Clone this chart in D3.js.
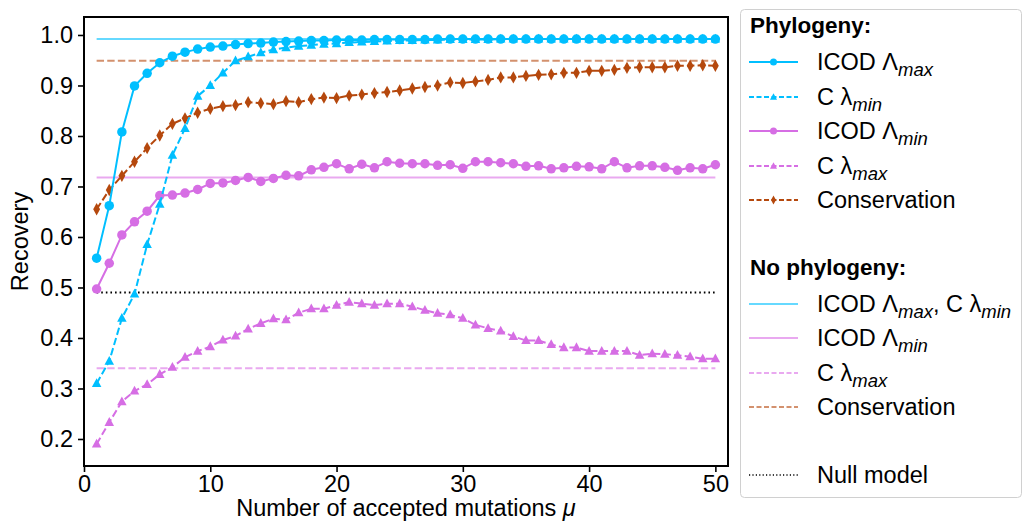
<!DOCTYPE html>
<html><head><meta charset="utf-8">
<script src="https://cdn.jsdelivr.net/npm/d3@7"></script>
<style>
html,body{margin:0;padding:0;background:#fff;}
svg{display:block;font-family:"Liberation Sans",Arial,sans-serif;}
</style></head>
<body><svg id="chart" width="1024" height="523"></svg>
<script>
// ---------- data ----------
const mu = [1,2,3,4,5,6,7,8,9,10,11,12,13,14,15,16,17,18,19,20,21,22,23,24,25,26,27,28,29,30,31,32,33,34,35,36,37,38,39,40,41,42,43,44,45,46,47,48,49,50];
const icodMaxPhylo = [0.558,0.662,0.808,0.899,0.924,0.945,0.958,0.966,0.972,0.976,0.978,0.981,0.983,0.984,0.986,0.987,0.988,0.989,0.989,0.990,0.990,0.990,0.991,0.991,0.991,0.991,0.991,0.992,0.992,0.992,0.992,0.992,0.992,0.992,0.992,0.992,0.992,0.992,0.992,0.992,0.992,0.992,0.992,0.992,0.992,0.992,0.992,0.992,0.992,0.992];
const cMinPhylo = [0.310,0.354,0.439,0.487,0.585,0.665,0.762,0.815,0.879,0.900,0.925,0.949,0.957,0.965,0.971,0.975,0.978,0.980,0.982,0.983,0.985,0.986,0.987,0.988,0.989,0.989,0.990,0.990,0.991,0.991,0.991,0.991,0.992,0.992,0.992,0.992,0.992,0.992,0.992,0.992,0.992,0.992,0.992,0.992,0.992,0.992,0.992,0.992,0.992,0.992];
const icodMinPhylo = [0.497,0.548,0.604,0.630,0.651,0.682,0.683,0.687,0.694,0.706,0.707,0.712,0.718,0.710,0.716,0.722,0.721,0.733,0.738,0.745,0.735,0.744,0.737,0.749,0.746,0.745,0.745,0.742,0.743,0.736,0.749,0.749,0.747,0.745,0.740,0.741,0.735,0.737,0.740,0.739,0.735,0.749,0.737,0.741,0.741,0.738,0.732,0.737,0.735,0.743];
const cMaxPhylo = [0.190,0.233,0.274,0.295,0.308,0.328,0.342,0.362,0.374,0.383,0.396,0.404,0.418,0.429,0.438,0.436,0.450,0.458,0.458,0.465,0.471,0.468,0.465,0.468,0.468,0.462,0.455,0.449,0.446,0.439,0.426,0.419,0.414,0.403,0.395,0.395,0.387,0.381,0.381,0.374,0.374,0.374,0.374,0.366,0.369,0.368,0.366,0.363,0.359,0.359];
const consPhylo = [0.655,0.693,0.721,0.749,0.776,0.801,0.824,0.835,0.846,0.854,0.859,0.861,0.867,0.865,0.863,0.869,0.867,0.873,0.876,0.875,0.880,0.882,0.885,0.887,0.890,0.894,0.897,0.900,0.906,0.905,0.908,0.911,0.916,0.916,0.919,0.921,0.922,0.925,0.925,0.929,0.929,0.931,0.935,0.936,0.936,0.936,0.939,0.939,0.940,0.939];
// no-phylogeny constant levels
const noPhyloIcodMaxCMin = 0.992;
const noPhyloIcodMin = 0.718;
const noPhyloCMax = 0.340;
const noPhyloCons = 0.949;
const nullModel = 0.490;
const xTicks = [0,10,20,30,40,50];
const yTicks = [0.2,0.3,0.4,0.5,0.6,0.7,0.8,0.9,1.0];

// ---------- style ----------
const BLUE = "#00bfff", PINK = "#d66ee4", BROWN = "#b5480d";
const BLUE_L = "#66d9ff", PINK_L = "#e9a9f0", BROWN_L = "#d3916e";
const FS = 23.5;

const svg = d3.select("#chart");
const L = 84, R = 728, T = 17, B = 466;
const x = d3.scaleLinear().domain([0, 51]).range([L, R]);
const y = d3.scaleLinear().domain([0.1465, 1.0356]).range([B, T]);

// reference (no phylogeny) lines
const hlines = [
  {v: noPhyloIcodMaxCMin, c: BLUE_L, dash: null, w: 2},
  {v: noPhyloCons, c: BROWN_L, dash: "7.4,3.2", w: 2},
  {v: noPhyloIcodMin, c: PINK_L, dash: null, w: 2},
  {v: noPhyloCMax, c: PINK_L, dash: "7.4,3.2", w: 2},
  {v: nullModel, c: "#000", dash: "1.6,3", w: 2}
];
hlines.forEach(h => {
  svg.append("line")
    .attr("x1", x(mu[0])).attr("x2", x(mu[mu.length-1]))
    .attr("y1", y(h.v)).attr("y2", y(h.v))
    .attr("stroke", h.c).attr("stroke-width", h.w)
    .attr("stroke-dasharray", h.dash);
});

// symbols
function markerPath(type, s) {
  if (type === "circle") return d3.symbol(d3.symbolCircle, s*s*Math.PI/4)();
  if (type === "tri") {
    const r = s/2;
    return `M0,${-r*1.1}L${r},${r*0.75}L${-r},${r*0.75}Z`;
  }
  if (type === "diamond") {
    const w = s*0.36, h = s*0.65;
    return `M0,${-h}L${w},0L0,${h}L${-w},0Z`;
  }
}

const series = [
  {vals: consPhylo, c: BROWN, dash: "7.4,3.2", m: "diamond"},
  {vals: cMaxPhylo, c: PINK, dash: "7.4,3.2", m: "tri"},
  {vals: icodMinPhylo, c: PINK, dash: null, m: "circle"},
  {vals: cMinPhylo, c: BLUE, dash: "7.4,3.2", m: "tri"},
  {vals: icodMaxPhylo, c: BLUE, dash: null, m: "circle"}
];
const line = d3.line().x((d,i) => x(mu[i])).y(d => y(d));
series.forEach(s => {
  svg.append("path").datum(s.vals).attr("d", line)
    .attr("fill", "none").attr("stroke", s.c).attr("stroke-width", 2)
    .attr("stroke-dasharray", s.dash);
  svg.append("g").selectAll("path").data(s.vals).join("path")
    .attr("d", markerPath(s.m, 9.5))
    .attr("transform", (d,i) => `translate(${x(mu[i])},${y(d)})`)
    .attr("fill", s.c);
});

// axes
const xAxis = d3.axisBottom(x).tickValues(xTicks).tickSize(6).tickPadding(3).tickFormat(d3.format("d"));
const yAxis = d3.axisLeft(y).tickValues(yTicks).tickSize(6).tickPadding(5).tickFormat(d3.format(".1f"));
const gx = svg.append("g").attr("transform", `translate(0,${B})`).call(xAxis);
const gy = svg.append("g").attr("transform", `translate(${L},0)`).call(yAxis);
[gx, gy].forEach(g => {
  g.select(".domain").remove();
  g.selectAll(".tick line").attr("stroke", "#000").attr("stroke-width", 1.6);
  g.selectAll(".tick text").attr("fill", "#000").attr("font-size", FS)
    .attr("font-family", "'Liberation Sans',Arial,sans-serif");
});
// frame
svg.append("rect").attr("x", L).attr("y", T).attr("width", R-L).attr("height", B-T)
  .attr("fill", "none").attr("stroke", "#000").attr("stroke-width", 2);

// axis labels
svg.append("text").attr("x", (L+R)/2).attr("y", 516).attr("text-anchor", "middle")
  .attr("font-size", FS).attr("fill", "#000")
  .call(t => { t.append("tspan").text("Number of accepted mutations ");
               t.append("tspan").attr("font-style", "italic").text("μ"); });
svg.append("text").attr("transform", `translate(28,${(T+B)/2}) rotate(-90)`)
  .attr("text-anchor", "middle").attr("font-size", FS).attr("fill", "#000").text("Recovery");

// legend
const lg = svg.append("g");
lg.append("rect").attr("x", 740.5).attr("y", 9.5).attr("width", 281).attr("height", 488)
  .attr("rx", 4).attr("fill", "#fff").attr("stroke", "#d0d0d0").attr("stroke-width", 1);

const legendRows = [
  {y: 25, title: "Phylogeny:"},
  {y: 62, c: BLUE, dash: null, m: "circle", parts: [["ICOD Λ"],["max","sub"]]},
  {y: 97, c: BLUE, dash: "5,2.5", m: "tri", parts: [["C λ"],["min","sub"]]},
  {y: 131, c: PINK, dash: null, m: "circle", parts: [["ICOD Λ"],["min","sub"]]},
  {y: 166, c: PINK, dash: "5,2.5", m: "tri", parts: [["C λ"],["max","sub"]]},
  {y: 200, c: BROWN, dash: "5,2.5", m: "diamond", parts: [["Conservation"]]},
  {y: 267, title: "No phylogeny:"},
  {y: 304, c: BLUE_L, dash: null, parts: [["ICOD Λ"],["max","sub"],[", C λ"],["min","sub"]]},
  {y: 338, c: PINK_L, dash: null, parts: [["ICOD Λ"],["min","sub"]]},
  {y: 373, c: PINK_L, dash: "5,2.5", parts: [["C λ"],["max","sub"]]},
  {y: 407, c: BROWN_L, dash: "5,2.5", parts: [["Conservation"]]},
  {y: 475, c: "#000", dash: "1.2,2.2", thin: true, parts: [["Null model"]]}
];
legendRows.forEach(r => {
  if (r.title) {
    lg.append("text").attr("x", 750).attr("y", r.y + 8).attr("font-size", 22.5)
      .attr("font-weight", "bold").attr("fill", "#000").text(r.title);
    return;
  }
  lg.append("line").attr("x1", 749).attr("x2", 798).attr("y1", r.y).attr("y2", r.y)
    .attr("stroke", r.c).attr("stroke-width", r.thin ? 1.6 : 2).attr("stroke-dasharray", r.dash);
  if (r.m) lg.append("path").attr("d", markerPath(r.m, 7))
    .attr("transform", `translate(773.5,${r.y})`).attr("fill", r.c);
  const t = lg.append("text").attr("x", 817).attr("y", r.y + 8).attr("font-size", FS).attr("fill", "#000");
  r.parts.forEach(p => {
    if (p[1] === "sub") {
      t.append("tspan").attr("font-size", 18.5).attr("font-style", "italic").attr("dy", 6).text(p[0]);
    } else {
      const ts = t.append("tspan").text(p[0]);
      if (t.selectAll("tspan").size() > 1) ts.attr("dy", -6);
    }
  });
});
</script></body></html>
